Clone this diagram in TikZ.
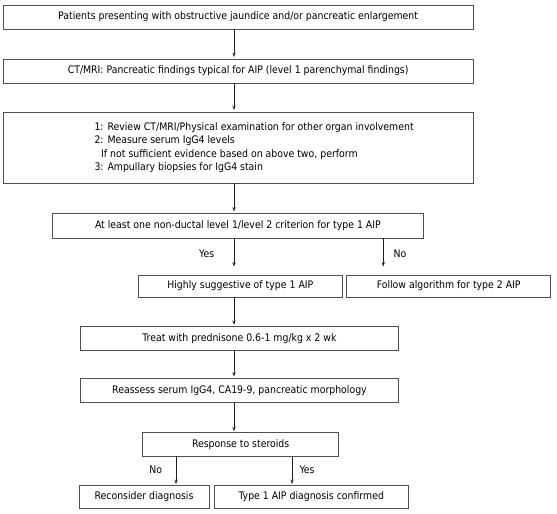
\documentclass[tikz,border=0pt]{standalone}
\usepackage{fontspec}
\setmainfont{DejaVu Sans Condensed}
\usetikzlibrary{arrows.meta}
\definecolor{boxline}{HTML}{505050}
\definecolor{arrline}{HTML}{202020}
\newcommand{\txtfont}{\fontsize{10.4}{12}\selectfont}
\begin{document}
\begin{tikzpicture}[x=1pt,y=-1pt,
  boxnode/.style={draw=boxline,line width=0.9pt,inner sep=0pt,font=\txtfont},
  arr/.style={draw=arrline,line width=0.7pt,-{Stealth[length=4.5pt,width=3.2pt]}},
  lbl/.style={font=\txtfont,inner sep=0pt},
  line/.style={font=\txtfont,inner sep=0pt,anchor=base west}]
\useasboundingbox[fill=white] (0,0) rectangle (557,514);
% boxes
\node[boxnode,minimum width=469.7pt,minimum height=24pt] (b1) at (238.15,17)
  {Patients presenting with obstructive jaundice and/or pancreatic enlargement};
\node[boxnode,minimum width=469.7pt,minimum height=24pt] (b2) at (238.15,71)
  {CT/MRI: Pancreatic findings typical for AIP (level 1 parenchymal findings)};
\node[boxnode,minimum width=469.7pt,minimum height=71pt] (b3) at (238.15,147.5) {};
\node[line] (l1) at (94.3,130.5) {1: Review CT/MRI/Physical examination for other organ involvement};
\node[line] (l2) at (94.3,143.8) {2: Measure serum IgG4 levels};
\node[line] (l3) at (101,157.1) {If not sufficient evidence based on above two, perform};
\node[line] (l4) at (94.3,170.4) {3: Ampullary biopsies for IgG4 stain};
\node[boxnode,minimum width=371.2pt,minimum height=24.5pt] (b4) at (237.9,225.75)
  {At least one non-ductal level 1/level 2 criterion for type 1 AIP};
\node[boxnode,minimum width=204pt,minimum height=22pt] (b5) at (240.3,286)
  {Highly suggestive of type 1 AIP};
\node[boxnode,minimum width=204pt,minimum height=22pt] (b6) at (448.7,286)
  {Follow algorithm for type 2 AIP};
\node[boxnode,minimum width=317.6pt,minimum height=23.3pt] (b7) at (239.5,338.35)
  {Treat with prednisone 0.6-1 mg/kg x 2 wk};
\node[boxnode,minimum width=317.6pt,minimum height=23.8pt] (b8) at (239.5,390.4)
  {Reassess serum IgG4, CA19-9, pancreatic morphology};
\node[boxnode,minimum width=195.9pt,minimum height=23.3pt] (b9) at (240.65,444.35)
  {Response to steroids};
\node[boxnode,minimum width=130pt,minimum height=23.3pt] (b10) at (144,496.65)
  {Reconsider diagnosis};
\node[boxnode,minimum width=194pt,minimum height=23.3pt] (b11) at (311.3,496.65)
  {Type 1 AIP diagnosis confirmed};
% connector columns
\coordinate (ax) at (234,0);
\coordinate (nx) at (383.3,0);
\coordinate (rn) at (176,0);
\coordinate (ry) at (292,0);
% connectors
\draw[arr,shorten >=1.5pt] (b1.south -| ax) -- (b2.north -| ax);
\draw[arr,shorten >=1.5pt] (b2.south -| ax) -- (b3.north -| ax);
\draw[arr,shorten >=1.5pt] (b3.south -| ax) -- (b4.north -| ax);
\draw[arr,shorten >=8pt] (b4.south -| ax) -- (b5.north -| ax);
\draw[arr,shorten >=8pt] (b4.south -| nx) -- (b6.north -| nx);
\draw[arr,shorten >=1.5pt] (b5.south -| ax) -- (b7.north -| ax);
\draw[arr,shorten >=1.5pt] (b7.south -| ax) -- (b8.north -| ax);
\draw[arr,shorten >=1pt] (b8.south -| ax) -- (b9.north -| ax);
\draw[arr,shorten >=0.5pt] (b9.south -| rn) -- (b10.north -| rn);
\draw[arr,shorten >=0.5pt] (b9.south -| ry) -- (b11.north -| ry);
% labels
\node[lbl] (yes1) at (206.7,253.3) {Yes};
\node[lbl] (no1) at (400,253.3) {No};
\node[lbl] (no2) at (155.7,469.3) {No};
\node[lbl] (yes2) at (307,469.3) {Yes};
\end{tikzpicture}
\end{document}
